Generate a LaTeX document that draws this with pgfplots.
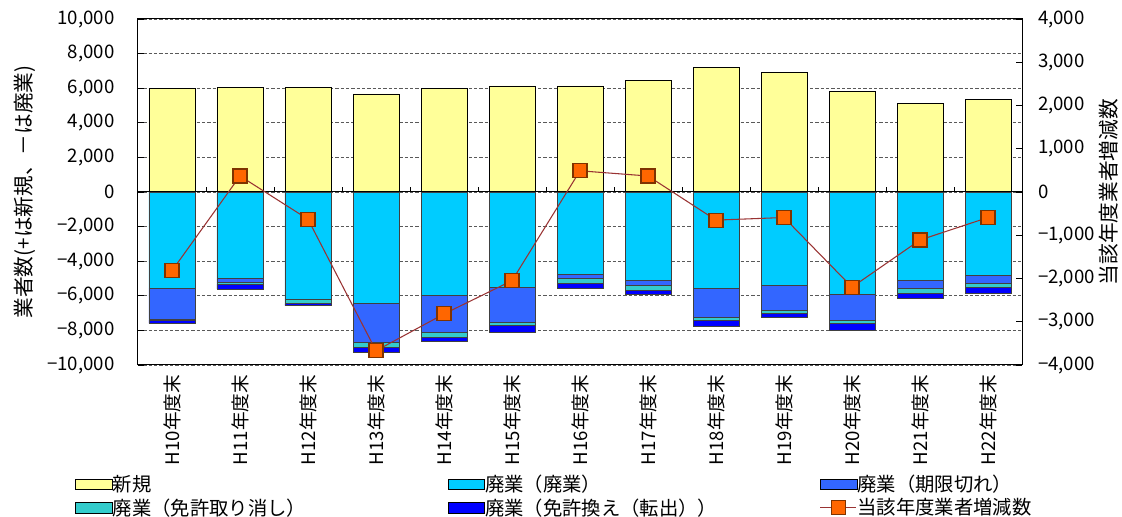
\documentclass[border=0pt]{standalone}
\usepackage{pgfplots}
\usepackage{pgfplotstable}
\pgfplotsset{compat=1.18}
\usepackage{fontspec}
\setmainfont{Noto Sans CJK JP}

\definecolor{shinki}{HTML}{FFFF99}
\definecolor{haigyo}{HTML}{00CCFF}
\definecolor{kigen}{HTML}{3366FF}
\definecolor{torikeshi}{HTML}{33CCCC}
\definecolor{kaie}{HTML}{0000FF}
\definecolor{zogenline}{HTML}{993333}
\definecolor{zogenmark}{HTML}{FF6600}
\definecolor{markedge}{HTML}{7F3300}

% year-end counts: new, closures by reason (negative), and net change
\pgfplotstableread{
x shinki haigyo kigen torikeshi kaie zogen
0  5970 -5550 -1810  -40 -200 -1820
1  6050 -5010  -240  -80 -280   370
2  6050 -6200   -20 -230 -120  -630
3  5670 -6430 -2260 -290 -290 -3670
4  5970 -5970 -2120 -310 -250 -2820
5  6130 -5510 -2000 -200 -400 -2050
6  6130 -4740  -270 -270 -270   490
7  6430 -5130  -270 -270 -270   370
8  7210 -5590 -1660 -190 -300  -650
9  6900 -5400 -1460 -150 -230  -590
10 5800 -5930 -1470 -190 -390 -2200
11 5130 -5130  -460 -270 -300 -1110
12 5360 -4840  -420 -270 -310  -590
}\datatable

\newcommand{\labfont}{\fontsize{15.5pt}{18pt}\selectfont}
\newcommand{\tickfont}{\fontsize{14pt}{16.5pt}\selectfont}
\newcommand{\legfont}{\fontsize{14.5pt}{17pt}\selectfont}

\pgfplotsset{
  base/.style={
    width=663pt, height=259.5pt, scale only axis,
    xmin=-0.5, xmax=12.5, ymin=-10000, ymax=10000,
    scaled y ticks=false, scaled x ticks=false,
    font=\tickfont,
    tick label style={font=\tickfont},
    bar width=34.5pt,
  },
  boximg/.style={legend image code/.code={\draw[##1] (0pt,-4pt) rectangle (27.5pt,4pt);}},
  lineimg/.style={legend image code/.code={\draw[mark repeat=2,mark phase=2,##1] plot coordinates {(0pt,0pt) (13.5pt,0pt) (27pt,0pt)};}},
}

\begin{document}
\begin{tikzpicture}
\useasboundingbox (-103.5pt,-114pt) rectangle (738pt,273.75pt);

% left axis, grid and new registrations
\begin{axis}[base, ybar,
  axis line style={black, line width=0.75pt},
  xtick={0,...,12},
  xticklabels={H10年度末,H11年度末,H12年度末,H13年度末,H14年度末,H15年度末,H16年度末,H17年度末,H18年度末,H19年度末,H20年度末,H21年度末,H22年度末},
  x tick style={draw=none},
  xticklabel style={rotate=90, anchor=east, xshift=-3.75pt},
  ytick={-10000,-8000,...,10000},
  yticklabels={{−10,000},{−8,000},{−6,000},{−4,000},{−2,000},{0},{2,000},{4,000},{6,000},{8,000},{10,000}},
  ytick pos=left, tick align=inside,
  y tick style={black, line width=0.6pt},
  yticklabel style={xshift=-14pt},
  ymajorgrids,
  major grid style={black!65, line width=0.6pt, dash pattern=on 2.5pt off 1.5pt},
]
\addplot[fill=shinki, draw=black, line width=0.6pt] table[x=x,y=shinki]{\datatable};
\end{axis}

% closures, stacked downward
\begin{axis}[base, ybar stacked, hide axis]
\addplot[fill=haigyo, draw=black!75, line width=0.6pt] table[x=x,y=haigyo]{\datatable};
\addplot[fill=kigen, draw=black!75, line width=0.6pt] table[x=x,y=kigen]{\datatable};
\addplot[fill=torikeshi, draw=black!75, line width=0.6pt] table[x=x,y=torikeshi]{\datatable};
\addplot[fill=kaie, draw=black!75, line width=0.6pt] table[x=x,y=kaie]{\datatable};
\end{axis}

% right axis: net change, plus the legend
\begin{axis}[base, ymin=-4000, ymax=4000, clip=false,
  axis y line*=right, axis x line=none,
  axis line style={black, line width=0.75pt},
  ytick={-4000,-3000,...,4000},
  yticklabels={{−4,000},{−3,000},{−2,000},{−1,000},{0},{1,000},{2,000},{3,000},{4,000}},
  tick align=inside,
  y tick style={black, line width=0.6pt},
  yticklabel style={xshift=8.5pt},
  legend columns=3,
  legend style={at={(axis description cs:-0.0713,-0.318)}, anchor=north west,
    draw=none, fill=none, inner sep=0pt, row sep=3.5pt, column sep=0pt,
    nodes={inner xsep=0pt, inner ysep=0pt},
    cells={anchor=west},
    /tikz/every even column/.append style={inner xsep=1.5pt, text width=251pt, align=left},
    font=\legfont},
]
\draw[black, line width=0.75pt] (axis cs:-0.5,0) -- (axis cs:12.5,0);
\pgfplotsinvokeforeach{0.5,1.5,2.5,3.5,4.5,5.5,6.5,7.5,8.5,9.5,10.5,11.5}{
  \draw[black, line width=0.6pt] (axis cs:#1,0) -- ++(0pt,4pt);
}
% axis titles, both set reading upward
\node[rotate=90, font=\labfont] at (axis description cs:-0.1278,0.5) {業者数(+は新規、－は廃業)};
\node[rotate=90, font=\labfont] at (axis description cs:1.098,0.5) {当該年度業者増減数};
\addlegendimage{boximg, fill=shinki, draw=black, line width=0.75pt}
\addlegendentry{新規}
\addlegendimage{boximg, fill=haigyo, draw=black, line width=0.75pt}
\addlegendentry{廃業（廃業）}
\addlegendimage{boximg, fill=kigen, draw=black, line width=0.75pt}
\addlegendentry{廃業（期限切れ）}
\addlegendimage{boximg, fill=torikeshi, draw=black, line width=0.75pt}
\addlegendentry{廃業（免許取り消し）}
\addlegendimage{boximg, fill=kaie, draw=black, line width=0.75pt}
\addlegendentry{廃業（免許換え（転出））}
\addplot[lineimg, zogenline, line width=0.8pt, mark=square*, mark size=5.25pt,
  mark options={fill=zogenmark, draw=markedge, line width=0.8pt, solid}]
  table[x=x,y=zogen]{\datatable};
\addlegendentry{当該年度業者増減数}
\end{axis}
\end{tikzpicture}
\end{document}
